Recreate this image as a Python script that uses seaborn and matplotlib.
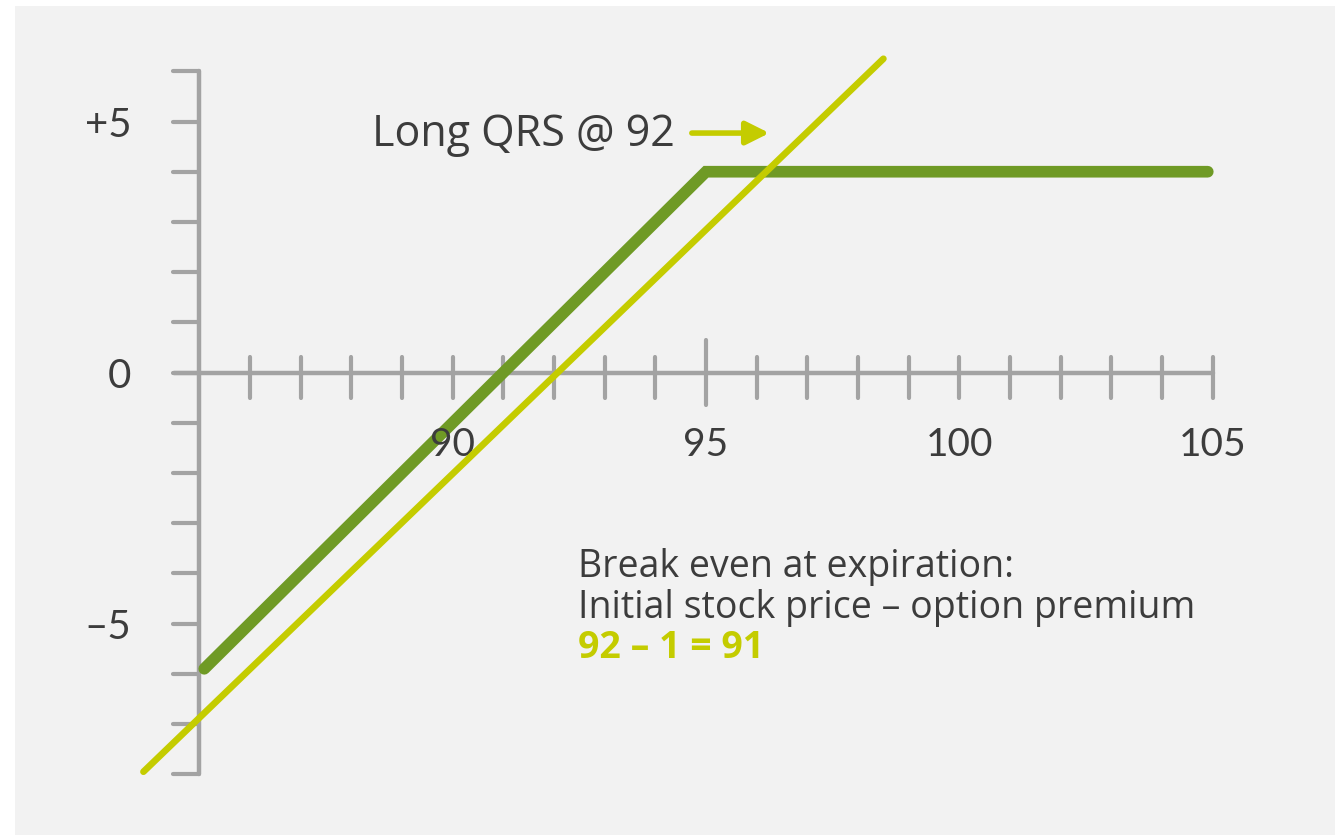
import matplotlib
matplotlib.use("Agg")
import matplotlib.pyplot as plt
from matplotlib.patches import Rectangle
import seaborn as sns
import numpy as np
import pandas as pd

# data
covered_x = [85.1, 95.0, 104.9]
covered_y = [-5.9, 4.0, 4.0]
stock_x = [83.9, 98.5]
stock_y = [-7.95, 6.25]

x_ticks = list(range(86, 106))
x_labels = {90: "90", 95: "95", 100: "100", 105: "105"}
y_ticks = list(range(-8, 7))
y_labels = {5: "+5", 0: "0", -5: "\u20135"}

stock_label = "Long QRS @ 92"
note_lines = ["Break even at expiration:", "Initial stock price \u2013 option premium"]
note_result = "92 \u2013 1 = 91"

dark_green = "#6f9a25"
lime = "#c4cc00"
axis_grey = "#a3a3a3"
text_grey = "#3c3c3c"
panel = "#f2f2f2"

sns.set_style("white")
plt.rcParams["font.family"] = ["Lato", "DejaVu Sans"]
wide = ["Open Sans", "DejaVu Sans"]

fig = plt.figure(figsize=(13.35, 8.35), dpi=100, facecolor="white")
fig.patches.append(Rectangle((15 / 1335, 0), 1, 829 / 835, transform=fig.transFigure,
                             facecolor=panel, edgecolor="none", zorder=-5))
ax = fig.add_axes([0, 0, 1, 1])
ax.set_facecolor("none")
ax.set_xlim(81.07, 107.41)
ax.set_ylim(-9.21, 7.42)
ax.axis("off")

# axes drawn by hand
ax.vlines(85, -8, 6, color=axis_grey, lw=3.2, capstyle="round", zorder=1)
ax.hlines(0, 84.5, 105, color=axis_grey, lw=3.2, capstyle="round", zorder=1)
ax.hlines(y_ticks, 84.48, 85, color=axis_grey, lw=3.0, capstyle="round", zorder=1)
small = [t for t in x_ticks if t != 95]
ax.vlines(small, -0.5, 0.3, color=axis_grey, lw=3.0, capstyle="round", zorder=1)
ax.vlines([95], -0.65, 0.65, color=axis_grey, lw=3.0, capstyle="round", zorder=1)

for v, s in y_labels.items():
    ax.text(83.66, v, s, ha="right", va="center_baseline", fontsize=29, color=text_grey)
for v, s in x_labels.items():
    ax.text(v, -1.37, s, ha="center", va="center_baseline", fontsize=28, color=text_grey)

# payoff lines
sns.lineplot(x=stock_x, y=stock_y, ax=ax, color=lime, linewidth=4.8, sort=False,
             solid_capstyle="round", zorder=3)
sns.lineplot(x=covered_x, y=covered_y, ax=ax, color=dark_green, linewidth=8.4, sort=False,
             solid_capstyle="round", solid_joinstyle="miter", zorder=2)

# annotations
ax.text(94.38, 4.51, stock_label, ha="right", va="baseline", fontsize=31, color=text_grey,
        family=wide)
ax.annotate("", xy=(96.25, 4.77), xytext=(94.72, 4.77),
            arrowprops=dict(arrowstyle="-|>,head_length=0.5,head_width=0.25",
                            mutation_scale=28, lw=4, color=lime,
                            shrinkA=0, shrinkB=0, capstyle="round"))

ax.text(92.48, -4.07, note_lines[0], ha="left", va="baseline", fontsize=27, color=text_grey,
        family=wide)
ax.text(92.48, -4.88, note_lines[1], ha="left", va="baseline", fontsize=27, color=text_grey,
        family=wide)
ax.text(92.48, -5.69, note_result, ha="left", va="baseline", fontsize=27, color=lime,
        fontweight="bold", family=wide)

fig.savefig("out.png", dpi=100, facecolor="white")
